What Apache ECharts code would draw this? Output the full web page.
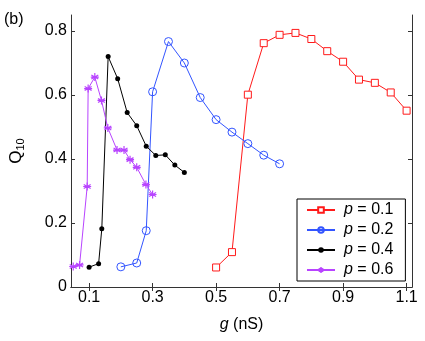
<!DOCTYPE html>
<html><head><meta charset="utf-8">
<script src="https://cdn.jsdelivr.net/npm/echarts@6/dist/echarts.min.js"></script>
<style>html,body{margin:0;padding:0;background:#fff}#c{width:425px;height:341px}</style>
</head><body><div id="c"></div>
<script>
const xTicks = [0.1, 0.3, 0.5, 0.7, 0.9, 1.1];
const yTicks = [0, 0.2, 0.4, 0.6, 0.8];
const seriesNames = ['p = 0.1', 'p = 0.2', 'p = 0.4', 'p = 0.6'];

const gP01 = [0.5, 0.55, 0.6, 0.65, 0.7, 0.75, 0.8, 0.85, 0.9, 0.95, 1.0, 1.05, 1.1];
const qP01 = [0.061, 0.109, 0.601, 0.762, 0.788, 0.794, 0.775, 0.737, 0.704, 0.648, 0.638, 0.608, 0.551];

const gP02 = [0.2, 0.25, 0.28, 0.3, 0.35, 0.4, 0.45, 0.5, 0.55, 0.6, 0.65, 0.7];
const qP02 = [0.063, 0.075, 0.176, 0.610, 0.767, 0.700, 0.592, 0.523, 0.484, 0.448, 0.412, 0.385];

const gP04 = [0.1, 0.13, 0.14, 0.16, 0.19, 0.22, 0.25, 0.28, 0.31, 0.34, 0.37, 0.4];
const qP04 = [0.062, 0.073, 0.182, 0.720, 0.651, 0.545, 0.504, 0.440, 0.411, 0.413, 0.381, 0.358];

const gP06 = [0.05, 0.07, 0.094, 0.097, 0.118, 0.139, 0.159, 0.188, 0.21, 0.229, 0.25, 0.279, 0.3];
const qP06 = [0.064, 0.069, 0.314, 0.620, 0.656, 0.583, 0.497, 0.428, 0.428, 0.398, 0.374, 0.320, 0.289];

const pairs = (xs, ys) => xs.map((x, i) => [x, ys[i]]);
const FONT = 'Liberation Sans';
const star = 'path://M0,-5L0,5M-4.33,-2.5L4.33,2.5M-4.33,2.5L4.33,-2.5M-5,0L5,0';

const chart = echarts.init(document.getElementById('c'), null, {renderer: 'canvas'});
const axisCommon = {
  axisLine: {show: true, lineStyle: {color: '#333', width: 1}},
  splitLine: {show: false}
};
const XMIN = 0.043, XMAX = 1.117;
chart.setOption({
  animation: false,
  backgroundColor: '#fff',
  textStyle: {fontFamily: FONT},
  grid: {left: 67, right: 13, top: 15, bottom: 54},
  graphic: [{type: 'text', left: 4, top: 12, style: {text: '(b)', font: '16px "Liberation Sans"', fill: '#000'}}],
  legend: {
    left: 297, top: 199, orient: 'vertical',
    width: 108,
    padding: [2, 12, 2, 9],
    itemGap: 2, itemWidth: 28, itemHeight: 7,
    borderColor: '#000', borderWidth: 1, backgroundColor: '#fff',
    data: seriesNames,
    formatter: n => '{i|p}' + n.slice(1),
    textStyle: {fontFamily: FONT, fontSize: 16, color: '#000', padding: [0, 0, 0, 4], lineHeight: 18,
      rich: {i: {fontStyle: 'italic', fontFamily: FONT, fontSize: 16, color: '#000', lineHeight: 18}}}
  },
  xAxis: [{
    type: 'value', min: XMIN, max: XMAX, position: 'bottom', ...axisCommon,
    axisTick: {show: true, inside: true, length: 4, customValues: xTicks, lineStyle: {color: '#333'}},
    axisLabel: {show: true, customValues: xTicks, margin: 3, fontSize: 16, fontFamily: FONT, color: '#000',
      formatter: v => String(v)},
    name: '{i|g} (nS)', nameLocation: 'middle', nameGap: 30,
    nameTextStyle: {fontSize: 16, fontFamily: FONT, color: '#000',
      rich: {i: {fontStyle: 'italic', fontSize: 16, fontFamily: FONT, color: '#000'}}}
  }, {
    type: 'value', min: XMIN, max: XMAX, position: 'top', ...axisCommon,
    axisTick: {show: true, inside: true, length: 4, customValues: xTicks, lineStyle: {color: '#333'}},
    axisLabel: {show: false}
  }],
  yAxis: [{
    type: 'value', min: 0, max: 0.85, interval: 0.2, position: 'left', ...axisCommon,
    axisTick: {show: true, inside: true, length: 4, customValues: yTicks, lineStyle: {color: '#333'}},
    axisLabel: {customValues: yTicks, margin: 4, fontSize: 16, fontFamily: FONT, color: '#000',
      formatter: v => v === 0 ? '0' : v.toFixed(1)},
    name: '{q|Q}{s|10}', nameLocation: 'middle', nameGap: 45, nameRotate: 90,
    nameTextStyle: {rich: {
      q: {fontSize: 17, fontFamily: FONT, color: '#000'},
      s: {fontSize: 11, fontFamily: FONT, color: '#000', padding: [8, 0, 0, 0]}}}
  }, {
    type: 'value', min: 0, max: 0.85, interval: 0.2, position: 'right', ...axisCommon,
    axisTick: {show: true, inside: true, length: 4, customValues: yTicks, lineStyle: {color: '#333'}},
    axisLabel: {show: false}
  }],
  series: [
    {name: seriesNames[0], type: 'line', data: pairs(gP01, qP01), symbol: 'rect', symbolSize: 7,
      lineStyle: {color: '#ff1a1a', width: 1}, itemStyle: {color: '#fff', borderColor: '#ff1a1a', borderWidth: 1}},
    {name: seriesNames[1], type: 'line', data: pairs(gP02, qP02), symbol: 'circle', symbolSize: 8,
      lineStyle: {color: '#3355ff', width: 1}, itemStyle: {color: 'rgba(255,255,255,0)', borderColor: '#3355ff', borderWidth: 1}},
    {name: seriesNames[2], type: 'line', data: pairs(gP04, qP04), symbol: 'circle', symbolSize: 5,
      lineStyle: {color: '#000', width: 1}, itemStyle: {color: '#000', borderColor: '#000', borderWidth: 0}},
    {name: seriesNames[3], type: 'line', data: pairs(gP06, qP06), symbol: star, symbolSize: 8,
      lineStyle: {color: '#b844ff', width: 1}, itemStyle: {color: '#b844ff', borderColor: '#b844ff', borderWidth: 1.2}}
  ]
});
</script></body></html>
